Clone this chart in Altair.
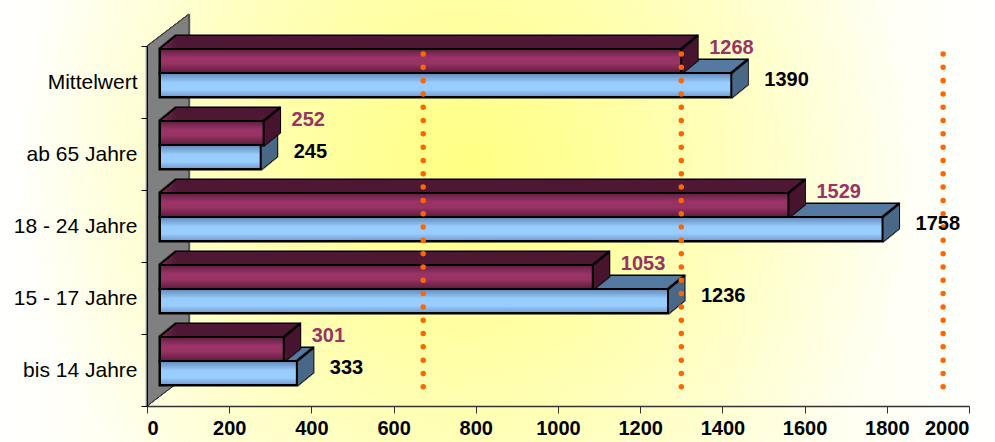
import altair as alt
import pandas as pd

# ---- data -------------------------------------------------------------
categories = ["Mittelwert", "ab 65 Jahre", "18 - 24 Jahre", "15 - 17 Jahre", "bis 14 Jahre"]
values_red = [1268, 252, 1529, 1053, 301]
values_blue = [1390, 245, 1758, 1236, 333]
x_ticks = [0, 200, 400, 600, 800, 1000, 1200, 1400, 1600, 1800, 2000]
marker_lines = [672, 1300, 1937]

# ---- geometry / style ---------------------------------------------------
FONT = "Liberation Sans"
W, H = 822, 360
BASE_X = 13          # bars start a little right of the axis origin
DEPTH_X, DEPTH_Y = 16, 13
STEP_X = DEPTH_X / DEPTH_Y
BAR_H = 24
WALL_DX, WALL_DY = 42, 32

red = pd.DataFrame({"Gruppe": categories, "Wert": values_red})
blue = pd.DataFrame({"Gruppe": categories, "Wert": values_blue})
markers = pd.DataFrame({"Wert": marker_lines})

x_axis = alt.Axis(values=x_ticks, format="d", title=None, grid=False,
                  labelFont=FONT, labelFontSize=20, labelFontWeight="bold",
                  labelColor="black", labelPadding=5, tickSize=7,
                  tickColor="#333333", domainColor="#333333", domainWidth=1.5,
                  zindex=1)
y_axis = alt.Axis(title=None, labelFont=FONT, labelFontSize=21,
                  labelColor="black", labelPadding=4, tickSize=6,
                  tickColor="black", domainColor="black", tickBand="extent",
                  zindex=1)

x_enc = alt.X("Wert:Q", scale=alt.Scale(domain=[0, 2000], nice=False), axis=x_axis)
y_enc = alt.Y("Gruppe:N", sort=categories,
              scale=alt.Scale(paddingInner=0, paddingOuter=0), axis=y_axis)


def grad(stops, vertical=True):
    return alt.LinearGradient(
        gradient="linear",
        stops=[alt.GradientStop(offset=o, color=c) for o, c in stops],
        x1=0, y1=0, x2=0 if vertical else 1, y2=1 if vertical else 0)


def mix(c1, c2, t):
    a = [int(c1[i:i + 2], 16) for i in (1, 3, 5)]
    b = [int(c2[i:i + 2], 16) for i in (1, 3, 5)]
    return "#" + "".join(f"{round(p + (q - p) * t):02x}" for p, q in zip(a, b))


STYLE = {
    "red": dict(front=[(0, "#5e1f3f"), (0.35, "#993366"), (0.6, "#993366"), (1, "#5a1c3a")],
                top_front="#7a2a54", top_back="#4e1834", side="#48152f", yc=-21),
    "blue": dict(front=[(0, "#5f87b5"), (0.4, "#99ccff"), (0.7, "#99ccff"), (1, "#6f9acb")],
                 top_front="#7a9ec6", top_back="#557aa2", side="#4a6887", yc=3),
}


def extrusion(df, st):
    """Rear part of a 3D bar: outline, top face, side face and top-right edge."""
    yc = st["yc"]
    layers = []
    for k in range(DEPTH_Y + 1):
        xo = BASE_X + k * STEP_X
        layers.append(alt.Chart(df).mark_bar(
            height=BAR_H, yOffset=yc - k, xOffset=xo, x2Offset=xo,
            color="black", stroke="black", strokeWidth=3).encode(x=x_enc, y=y_enc))
    for k in range(DEPTH_Y + 1):
        xo = BASE_X + k * STEP_X
        layers.append(alt.Chart(df).mark_bar(
            height=BAR_H, yOffset=yc - k, xOffset=xo, x2Offset=xo,
            color=mix(st["top_front"], st["top_back"], k / DEPTH_Y)).encode(x=x_enc, y=y_enc))
    for k in range(DEPTH_Y):
        layers.append(alt.Chart(df).mark_bar(
            height=BAR_H + 1, yOffset=yc - k - 0.5,
            xOffset=BASE_X + k * STEP_X, x2Offset=BASE_X + (k + 1) * STEP_X + 0.6,
            color=st["side"]).encode(x=x_enc, x2="Wert:Q", y=y_enc))
    for k in range(DEPTH_Y + 1):
        xo = BASE_X + k * STEP_X
        layers.append(alt.Chart(df).mark_bar(
            height=2.4, yOffset=yc - BAR_H / 2 - k, xOffset=xo - 1.2, x2Offset=xo + 1.2,
            color="black").encode(x=x_enc, x2="Wert:Q", y=y_enc))
    return layers


def front(df, st):
    return alt.Chart(df).mark_bar(
        height=BAR_H, yOffset=st["yc"], xOffset=BASE_X, x2Offset=BASE_X,
        color=grad(st["front"]), stroke="black", strokeWidth=2).encode(x=x_enc, y=y_enc)


# ---- background --------------------------------------------------------
bg_box = dict(x=alt.value(-147), x2=alt.value(W + 26), y=alt.value(-46), y2=alt.value(H + 36))
background = alt.Chart(markers).mark_rect(
    color=grad([(0, "#ffffff"), (0.45, "#ffffcc"), (1, "#ffffff")], vertical=False)
).encode(**bg_box)
glow = alt.Chart(markers).mark_rect(
    color=alt.RadialGradient(
        gradient="radial", x1=0.47, y1=0.45, x2=0.47, y2=0.45, r1=0, r2=0.45,
        stops=[alt.GradientStop(offset=0, color="rgba(255,255,130,0.75)"),
               alt.GradientStop(offset=1, color="rgba(255,255,200,0)")])
).encode(**bg_box)

# ---- left side wall ------------------------------------------------------
wall = []
n_wall = 21
for i in range(n_wall + 1):
    px = i * WALL_DX / n_wall
    py = -i * WALL_DY / n_wall
    wall.append(alt.Chart(markers).mark_rule(color="#808080", strokeWidth=2.2).encode(
        x=alt.value(px), y=alt.value(py), y2=alt.value(H + py)))
wall_edges = [
    alt.Chart(markers).mark_rule(color="#404040", strokeWidth=1).encode(
        x=alt.value(0), x2=alt.value(WALL_DX), y=alt.value(0), y2=alt.value(-WALL_DY)),
    alt.Chart(markers).mark_rule(color="#404040", strokeWidth=1).encode(
        x=alt.value(0), x2=alt.value(WALL_DX), y=alt.value(H), y2=alt.value(H - WALL_DY)),
    alt.Chart(markers).mark_rule(color="#505050", strokeWidth=1).encode(
        x=alt.value(WALL_DX), y=alt.value(-WALL_DY), y2=alt.value(H - WALL_DY)),
]

# ---- bars ----------------------------------------------------------------
bar_layers = (extrusion(blue, STYLE["blue"]) + extrusion(red, STYLE["red"])
              + [front(blue, STYLE["blue"]), front(red, STYLE["red"])])

# ---- dotted marker lines -------------------------------------------------
dots = alt.Chart(markers).mark_rule(
    color="#ff6600", strokeWidth=5.5, strokeCap="round", strokeDash=[0.01, 13.3]
).encode(x=x_enc, y=alt.value(8), y2=alt.value(352))

# ---- value labels --------------------------------------------------------
label_red = alt.Chart(red).mark_text(
    align="left", baseline="middle", dx=BASE_X + 28, dy=-34,
    font=FONT, fontSize=20, fontWeight="bold", color="#993366"
).encode(x=x_enc, y=y_enc, text=alt.Text("Wert:Q", format="d"))
label_blue = alt.Chart(blue).mark_text(
    align="left", baseline="middle", dx=BASE_X + 33, dy=-2,
    font=FONT, fontSize=20, fontWeight="bold", color="black"
).encode(x=x_enc, y=y_enc, text=alt.Text("Wert:Q", format="d"))

chart = alt.layer(
    background, glow, *wall, *wall_edges, *bar_layers, dots, label_red, label_blue
).properties(
    width=W, height=H,
    autosize=alt.AutoSizeParams(type="none"),
    padding={"left": 147, "top": 46, "right": 26, "bottom": 36},
    background="white",
).configure_view(stroke=None)

chart.save("out.html", embed_options={"renderer": "svg", "actions": False})
